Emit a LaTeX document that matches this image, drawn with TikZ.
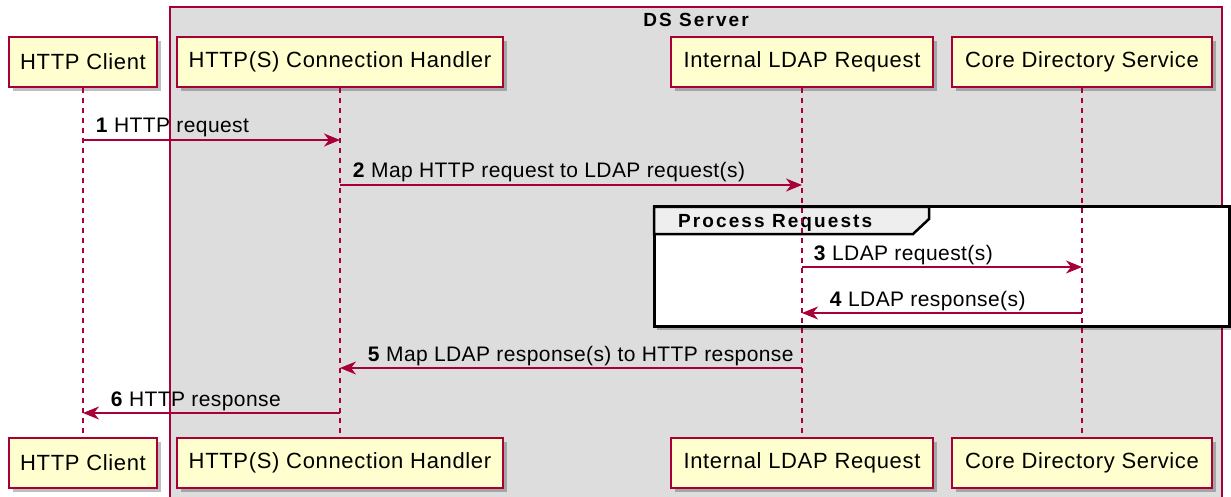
\documentclass[tikz,border=0pt]{standalone}
\usepackage{fontspec}
\setmainfont{Liberation Sans}
\usetikzlibrary{calc,shapes,arrows.meta,shadows,positioning}
\definecolor{umlred}{HTML}{A80036}
\definecolor{umlfill}{HTML}{FEFECE}
\definecolor{boxgray}{HTML}{DDDDDD}
\definecolor{headgray}{HTML}{EEEEEE}

\tikzset{
  part/.style={draw=umlred, line width=1.5pt, fill=umlfill, minimum height=50pt, inner sep=0pt,
    font=\fontsize{22}{26}\selectfont\addfontfeature{LetterSpace=3},
    drop shadow={shadow xshift=4pt, shadow yshift=-4pt, fill=black, opacity=.25}},
  lifeline/.style={umlred, line width=1.2pt, dash pattern=on 5pt off 5pt},
  msg/.style={umlred, line width=1.5pt, -{Stealth[length=16pt,width=13pt,inset=5pt]}},
  lbl/.style={inner sep=0pt, text=black, font=\fontsize{21}{25}\selectfont\addfontfeature{LetterSpace=2}},
  title/.style={inner sep=0pt, text=black, font=\bfseries\fontsize{19}{23}\selectfont\addfontfeature{LetterSpace=11}},
}

\begin{document}
\begin{tikzpicture}[x=1pt,y=-1pt]
\useasboundingbox (0,0) rectangle (1231,497);

% DS Server box
\draw[umlred, line width=1.5pt, fill=boxgray] (170,7) rectangle (1222,500);
\node[title, anchor=base] (ds) at (696,27) {DS Server};

% group frame
\draw[line width=3pt, fill=white, drop shadow={shadow xshift=3pt, shadow yshift=-4pt, fill=black, opacity=.25}]
  (654,207) rectangle (1229,326);
\draw[line width=2.5pt, line join=miter, fill=headgray]
  (654,207) -- (929,207) -- (929,219) -- (913,234) -- (654,234) -- cycle;
\node[title, anchor=base west] (grp) at (678,228) {Process Requests};

% participants and lifelines
\def\parts{cl/83/148/{HTTP Client},hd/340/326/{HTTP(S) Connection Handler},ir/802/262/{Internal LDAP Request},cd/1082/260/{Core Directory Service}}
\foreach \n / \x / \w / \t in \parts {
  \node[part, minimum width=\w pt] (t\n) at (\x,62) {\t};
  \node[part, minimum width=\w pt] (b\n) at (\x,463) {\t};
  \draw[lifeline] (t\n.south) -- (b\n.north);
}

% messages
\draw[msg] (tcl.south |- 0,140) -- node[lbl, pos=0, anchor=base west, xshift=12pt, yshift=7pt] (l1) {\textbf{1} HTTP request} (thd.south |- 0,140);
\draw[msg] (thd.south |- 0,185) -- node[lbl, pos=0, anchor=base west, xshift=12pt, yshift=7pt] (l2) {\textbf{2} Map HTTP request to LDAP request(s)} (tir.south |- 0,185);
\draw[msg] (tir.south |- 0,267) -- node[lbl, pos=0, anchor=base west, xshift=11pt, yshift=7pt] (l3) {\textbf{3} LDAP request(s)} (tcd.south |- 0,267);
\draw[msg] (tcd.south |- 0,313) -- node[lbl, pos=1, anchor=base west, xshift=27pt, yshift=7pt] (l4) {\textbf{4} LDAP response(s)} (tir.south |- 0,313);
\draw[msg] (tir.south |- 0,368) -- node[lbl, pos=1, anchor=base west, xshift=27pt, yshift=7pt] (l5) {\textbf{5} Map LDAP response(s) to HTTP response} (thd.south |- 0,368);
\draw[msg] (thd.south |- 0,413) -- node[lbl, pos=1, anchor=base west, xshift=27pt, yshift=7pt] (l6) {\textbf{6} HTTP response} (tcl.south |- 0,413);

\end{tikzpicture}
\end{document}
